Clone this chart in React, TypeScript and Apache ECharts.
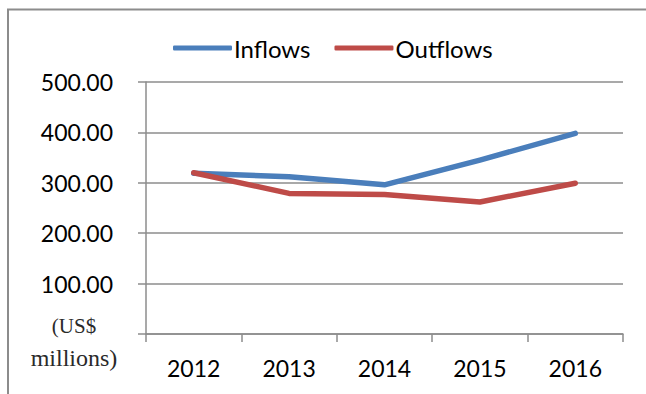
import React, { useEffect, useRef } from "react";
import * as echarts from "echarts";

const years = ["2012", "2013", "2014", "2015", "2016"];
const inflows = [319, 312, 296, 345, 398];
const outflows = [320, 279, 277, 262, 299];
const yTicks = { min: 0, max: 500, interval: 100 };
const unitLines = ["(US$", "millions)"];

const BLUE = "#4A7EBB";
const RED = "#BE4B48";
const GRID = "#8c8c8c";
const FONT = "Lato";

export default function App() {
  const ref = useRef<HTMLDivElement>(null);

  useEffect(() => {
    if (!ref.current) return;
    const chart = echarts.init(ref.current, undefined, { renderer: "svg" });
    chart.setOption({
      animation: false,
      backgroundColor: "#ffffff",
      legend: {
        left: 168,
        top: 31,
        itemWidth: 59,
        itemHeight: 5,
        itemGap: 24,
        icon: "roundRect",
        textStyle: { fontFamily: FONT, fontSize: 24, color: "#000", padding: [0, 0, 0, -3] },
        data: ["Inflows", "Outflows"],
      },
      grid: { left: 146, right: 23, top: 82, bottom: 60, containLabel: false },
      xAxis: {
        type: "category",
        data: years,
        boundaryGap: true,
        axisLine: { lineStyle: { color: GRID, width: 1.5 } },
        axisTick: { show: true, length: 8, lineStyle: { color: GRID, width: 1.5 } },
        axisLabel: { fontFamily: FONT, fontSize: 23, color: "#000", margin: 22 },
      },
      yAxis: {
        type: "value",
        min: yTicks.min,
        max: yTicks.max,
        interval: yTicks.interval,
        axisLine: { show: true, lineStyle: { color: GRID, width: 1.5 } },
        axisTick: { show: true, length: 8, lineStyle: { color: GRID, width: 1.5 } },
        splitLine: { lineStyle: { color: GRID, width: 1.5 } },
        axisLabel: {
          fontFamily: FONT,
          fontSize: 23,
          color: "#000",
          margin: 33,
          formatter: (v: number) => (v === 0 ? "" : v.toFixed(2)),
        },
      },
      series: [
        {
          name: "Inflows",
          type: "line",
          data: inflows,
          symbol: "none",
          color: BLUE,
          lineStyle: { width: 5.5, color: BLUE, cap: "round", join: "round" },
        },
        {
          name: "Outflows",
          type: "line",
          data: outflows,
          symbol: "none",
          color: RED,
          lineStyle: { width: 5.5, color: RED, cap: "round", join: "round" },
        },
      ],
      graphic: [
        {
          type: "rect",
          shape: { x: 8, y: 9.5, width: 700, height: 500 },
          style: { fill: "none", stroke: GRID, lineWidth: 2 },
          silent: true,
        },
        {
          type: "text",
          x: 74,
          y: 310,
          style: {
            text: `{a|${unitLines[0]}}\n{b|${unitLines[1]}}`,
            align: "center",
            verticalAlign: "top",
            rich: {
              a: {
                fontFamily: "Liberation Serif",
                fontSize: 21,
                lineHeight: 31,
                fill: "#2a2a2a",
                color: "#2a2a2a",
                align: "center",
              },
              b: {
                fontFamily: "Liberation Serif",
                fontSize: 24,
                lineHeight: 33,
                fill: "#2a2a2a",
                color: "#2a2a2a",
                align: "center",
              },
            },
          },
        },
      ],
    });
    return () => chart.dispose();
  }, []);

  return (
    <div
      ref={ref}
      style={{ position: "fixed", left: 0, top: 0, width: 646, height: 394 }}
    />
  );
}
